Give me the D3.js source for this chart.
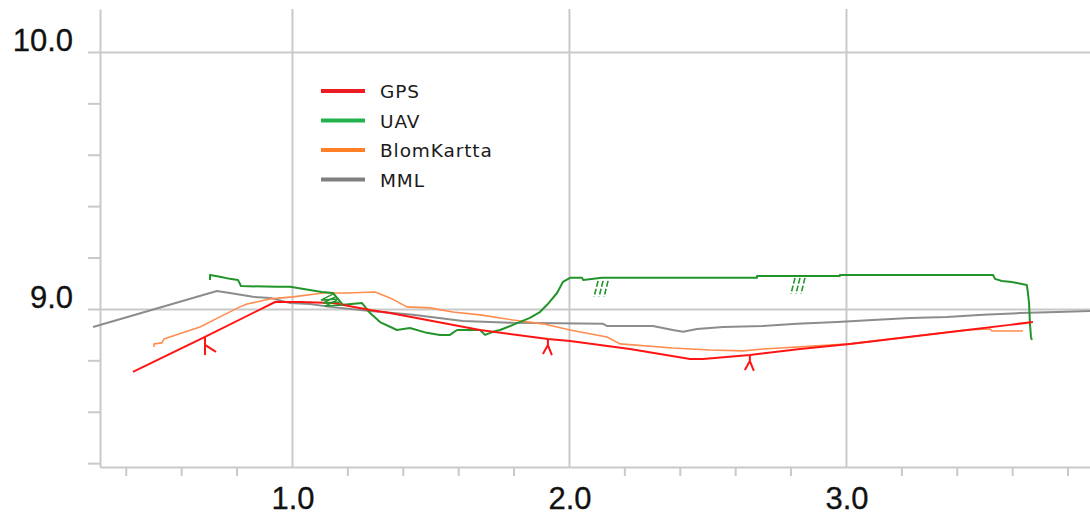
<!DOCTYPE html>
<html>
<head>
<meta charset="utf-8">
<script src="https://cdn.jsdelivr.net/npm/d3@7"></script>
<style>
  html, body { margin: 0; padding: 0; background: #fff; }
  svg { display: block; }
</style>
</head>
<body>
<svg id="chart" width="1090" height="515"></svg>
<script>
// Longitudinal profile: distance (x) vs. elevation (y) for four survey sources.
const seriesNames = ["GPS", "UAV", "BlomKartta", "MML"];
const lineColors = ["#ff1414", "#23942a", "#ff8d4e", "#8c8c8c"];
const legendColors = ["#ed1c24", "#22b14c", "#ff7f27", "#7f7f7f"];

const gps = [
  [0.426, 8.755], [0.686, 8.891], [0.939, 9.027], [1.029, 9.027], [1.148, 9.023],
  [1.282, 8.996], [1.354, 8.984], [1.679, 8.918], [1.924, 8.883], [2.004, 8.875],
  [2.220, 8.844], [2.437, 8.805], [2.484, 8.805], [2.653, 8.821], [2.834, 8.844],
  [3.014, 8.864], [3.437, 8.918], [3.592, 8.938], [3.675, 8.949]
];

const uav = [
  [0.704, 9.113], [0.704, 9.132], [0.740, 9.125], [0.776, 9.117], [0.805, 9.113],
  [0.816, 9.089], [0.946, 9.086], [0.993, 9.086], [1.108, 9.066], [1.148, 9.062],
  [1.184, 9.016], [1.253, 9.023], [1.282, 8.984], [1.318, 8.949], [1.379, 8.918],
  [1.426, 8.926], [1.487, 8.907], [1.534, 8.899], [1.570, 8.899], [1.596, 8.918],
  [1.679, 8.918], [1.697, 8.899], [1.726, 8.911], [1.751, 8.918], [1.798, 8.938],
  [1.859, 8.965], [1.895, 8.988], [1.921, 9.016], [1.957, 9.062], [1.978, 9.105],
  [2.004, 9.121], [2.047, 9.121], [2.051, 9.113], [2.119, 9.121], [2.679, 9.121],
  [2.679, 9.128], [2.978, 9.128], [2.978, 9.132], [3.531, 9.132], [3.538, 9.117],
  [3.563, 9.109], [3.599, 9.105], [3.635, 9.097], [3.653, 9.093], [3.657, 9.062],
  [3.661, 9.023], [3.664, 8.946], [3.668, 8.891], [3.671, 8.879]
];

const blom = [
  [0.502, 8.852], [0.502, 8.864], [0.531, 8.868], [0.538, 8.883], [0.570, 8.895],
  [0.668, 8.930], [0.740, 8.969], [0.812, 9.008], [0.838, 9.019], [0.921, 9.039],
  [1.004, 9.047], [1.112, 9.062], [1.199, 9.062], [1.300, 9.066], [1.354, 9.043],
  [1.415, 9.008], [1.498, 9.004], [1.581, 8.988], [1.679, 8.977], [1.798, 8.957],
  [1.906, 8.942], [2.004, 8.918], [2.137, 8.891], [2.184, 8.864], [2.375, 8.848],
  [2.509, 8.840], [2.628, 8.837], [2.700, 8.844], [3.014, 8.864], [3.437, 8.918],
  [3.520, 8.922], [3.527, 8.914], [3.639, 8.914]
];

const mml = [
  [0.282, 8.930], [0.729, 9.070], [0.776, 9.062], [0.859, 9.047], [0.921, 9.043],
  [0.993, 9.023], [1.065, 9.019], [1.137, 9.008], [1.282, 8.992], [1.437, 8.977],
  [1.617, 8.953], [1.798, 8.946], [2.123, 8.942], [2.137, 8.934], [2.303, 8.934],
  [2.375, 8.918], [2.412, 8.911], [2.462, 8.922], [2.556, 8.930], [2.700, 8.934],
  [2.823, 8.942], [2.968, 8.949], [3.097, 8.957], [3.231, 8.965], [3.365, 8.969],
  [3.495, 8.977], [3.628, 8.984], [3.762, 8.988], [3.881, 8.992]
];

// Survey annotations along the profiles
const gpsMarks = [[0.686, 8.891], [1.924, 8.883], [2.653, 8.821]];
const uavHatches = [[2.105, 9.109], [2.816, 9.121]];
const uavChevron = [1.148, 9.062];

const xMajor = [1, 2, 3];
const xTickLabels = ["1.0", "2.0", "3.0"];
const xMinor = [0.4, 0.6, 0.8, 1.2, 1.4, 1.6, 1.8, 2.2, 2.4, 2.6, 2.8, 3.2, 3.4, 3.6, 3.8];
const yMajor = [9, 10];
const yTickLabels = ["9.0", "10.0"];
const yMinor = [8.4, 8.6, 8.8, 9.2, 9.4, 9.6, 9.8];

const svg = d3.select("#chart");
const plotLeft = 100, plotRight = 1090, plotTop = 9, plotBottom = 467;
const gridColor = "#c9c9c9";

const x = d3.scaleLinear().domain([0.307, 3.881]).range([plotLeft, plotRight]);
const y = d3.scaleLinear().domain([8.385, 10.167]).range([plotBottom, plotTop]);

// Vertical grid lines at the major distances
svg.append("g")
  .attr("transform", `translate(0,${plotBottom})`)
  .call(d3.axisBottom(x).tickValues(xMajor).tickSize(-(plotBottom - plotTop)).tickFormat(""))
  .call(g => g.select(".domain").remove())
  .call(g => g.selectAll(".tick line").attr("stroke", gridColor).attr("stroke-width", 2));

// Horizontal grid lines at the major elevations
svg.append("g")
  .attr("transform", `translate(${plotRight},0)`)
  .call(d3.axisLeft(y).tickValues(yMajor).tickSize(plotRight - 88).tickFormat(""))
  .call(g => g.select(".domain").remove())
  .call(g => g.selectAll(".tick line").attr("stroke", gridColor).attr("stroke-width", 2));

// X axis with minor ticks
svg.append("g")
  .attr("transform", `translate(0,${plotBottom})`)
  .call(d3.axisBottom(x).tickValues(xMinor).tickSize(9).tickSizeOuter(0).tickFormat(""))
  .call(g => g.select(".domain").attr("stroke", gridColor).attr("stroke-width", 2))
  .call(g => g.selectAll(".tick line").attr("stroke", gridColor).attr("stroke-width", 2));

// Y axis with minor ticks
svg.append("g")
  .attr("transform", `translate(${plotLeft},0)`)
  .call(d3.axisLeft(y).tickValues(yMinor).tickSize(12).tickSizeOuter(0).tickFormat(""))
  .call(g => g.select(".domain").attr("stroke", gridColor).attr("stroke-width", 2))
  .call(g => g.selectAll(".tick line").attr("stroke", gridColor).attr("stroke-width", 2));

// Major tick labels
const labelFont = "'Liberation Sans', Arial, sans-serif";
svg.append("g").selectAll("text")
  .data(xMajor)
  .join("text")
  .attr("x", d => x(d) + 1)
  .attr("y", 509)
  .attr("text-anchor", "middle")
  .attr("font-family", labelFont)
  .attr("font-size", 31)
  .attr("fill", "#111")
  .attr("stroke", "#111")
  .attr("stroke-width", 0.3)
  .text((d, i) => xTickLabels[i]);

svg.append("g").selectAll("text")
  .data(yMajor)
  .join("text")
  .attr("x", 73)
  .attr("y", d => y(d) - 1)
  .attr("text-anchor", "end")
  .attr("font-family", labelFont)
  .attr("font-size", 31)
  .attr("fill", "#111")
  .attr("stroke", "#111")
  .attr("stroke-width", 0.3)
  .text((d, i) => yTickLabels[i]);

// Profile lines
const line = d3.line().x(d => x(d[0])).y(d => y(d[1]));
const series = [gps, uav, blom, mml];
const widths = [2, 2, 1.6, 2];
const drawOrder = [3, 2, 1, 0];
drawOrder.forEach(i => {
  svg.append("path")
    .datum(series[i])
    .attr("d", line)
    .attr("fill", "none")
    .attr("stroke", lineColors[i])
    .attr("stroke-width", widths[i])
    .attr("stroke-linejoin", "round");
});

// GPS check-point marks
svg.append("g").selectAll("path")
  .data(gpsMarks)
  .join("path")
  .attr("transform", d => `translate(${x(d[0])},${y(d[1])})`)
  .attr("d", (d, i) => i === 0 ? "M0,0V18M0,8L11,15" : "M0,0V6L-5,15M0,6L4,16")
  .attr("fill", "none")
  .attr("stroke", lineColors[0])
  .attr("stroke-width", 2);

// UAV hatch marks
svg.append("g").selectAll("path")
  .data(uavHatches)
  .join("path")
  .attr("transform", d => `translate(${x(d[0])},${y(d[1])})`)
  .attr("d", "M0,0L-4,16M5,0L1,16M10,0L6,16")
  .attr("fill", "none")
  .attr("stroke", lineColors[1])
  .attr("stroke-width", 1.6)
  .attr("stroke-dasharray", "6,2");

// UAV chevrons at the bend
svg.append("path")
  .attr("transform", `translate(${x(uavChevron[0])},${y(uavChevron[1])})`)
  .attr("d", "M0,1L-12,7L6,6M2,4L-10,10L8,9M4,7L-8,13L10,12")
  .attr("fill", "none")
  .attr("stroke", lineColors[1])
  .attr("stroke-width", 1.4);

// Legend
const legend = svg.append("g").attr("transform", "translate(321,91)");
const item = legend.selectAll("g")
  .data(seriesNames)
  .join("g")
  .attr("transform", (d, i) => `translate(0,${i * 29.5})`);
item.append("line")
  .attr("x1", 0).attr("x2", 44)
  .attr("stroke", (d, i) => legendColors[i])
  .attr("stroke-width", 4);
item.append("text")
  .attr("x", 59)
  .attr("y", 7)
  .attr("font-family", "'DejaVu Sans', Verdana, sans-serif")
  .attr("font-size", 18.5)
  .attr("letter-spacing", "0.9px")
  .attr("fill", "#1a1a1a")
  .text(d => d);
</script>
</body>
</html>
